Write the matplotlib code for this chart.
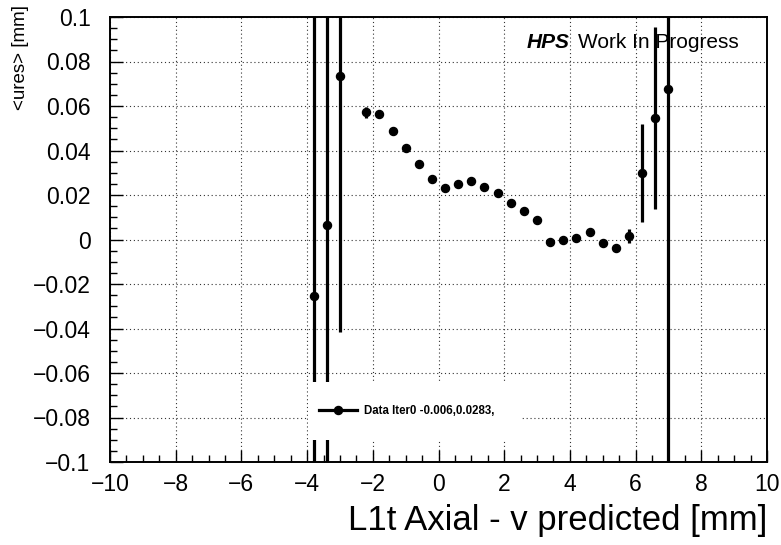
import matplotlib
matplotlib.use("Agg")
import matplotlib.pyplot as plt
from matplotlib.ticker import MultipleLocator, FuncFormatter
from matplotlib.patches import Rectangle
from matplotlib.lines import Line2D

plt.rcParams['font.family'] = ['Liberation Sans', 'DejaVu Sans']

# Mean residual per predicted-v bin
v_pred = [-3.8, -3.4, -3.0, -2.2, -1.8, -1.4, -1.0, -0.6, -0.2, 0.2, 0.6, 1.0,
          1.4, 1.8, 2.2, 2.6, 3.0, 3.4, 3.8, 4.2, 4.6, 5.0, 5.4, 5.8, 6.2, 6.6, 7.0]
ures_mean = [-0.0255, 0.0065, 0.0733, 0.0572, 0.0562, 0.0487, 0.0410, 0.0340,
             0.0274, 0.0232, 0.0250, 0.0263, 0.0235, 0.0208, 0.0166, 0.0130,
             0.0088, -0.0010, -0.0004, 0.0007, 0.0035, -0.0017, -0.0036,
             0.0015, 0.0300, 0.0547, 0.0675]
ures_err = [0.20, 0.20, 0.115, 0.0025, 0.0012, 0.0012, 0.0012, 0.0012, 0.0012,
            0.0012, 0.0012, 0.0012, 0.0012, 0.0012, 0.0012, 0.0012, 0.0012,
            0.0012, 0.0012, 0.0012, 0.0012, 0.0012, 0.0012, 0.003, 0.022,
            0.041, 0.30]

legend_label = "Data Iter0 -0.006,0.0283,"

fig = plt.figure(figsize=(7.81, 5.45), dpi=100)
ax = fig.add_axes([110 / 781, 83 / 545, 657 / 781, 445 / 545])

ax.errorbar(v_pred, ures_mean, yerr=ures_err, fmt='o', color='black',
            ms=5.8, elinewidth=2.3, capsize=0, zorder=3)

ax.set_xlim(-10, 10)
ax.set_ylim(-0.1, 0.1)

ax.xaxis.set_major_locator(MultipleLocator(2))
ax.xaxis.set_minor_locator(MultipleLocator(0.5))
ax.yaxis.set_major_locator(MultipleLocator(0.02))
ax.yaxis.set_minor_locator(MultipleLocator(0.005))


def yfmt(v, pos):
    if abs(v) < 1e-9:
        return "0"
    s = f"{v:.2f}".rstrip('0')
    return s.replace('-', '\u2212')


ax.yaxis.set_major_formatter(FuncFormatter(yfmt))
ax.xaxis.set_major_formatter(FuncFormatter(lambda v, p: f"{v:.0f}".replace('-', '\u2212')))

ax.tick_params(which='both', direction='in', top=False, right=False,
               labelsize=16.5, width=1.0)
ax.tick_params(axis='x', which='major', length=9, pad=8)
ax.tick_params(axis='y', which='major', length=9, pad=14)
ax.tick_params(which='minor', length=5)

for sp in ax.spines.values():
    sp.set_linewidth(1.4)

ax.grid(True, which='major', linestyle=(0, (1, 2.5)), linewidth=0.8,
        color='#333333', zorder=0)
ax.set_axisbelow(True)

# White legend panel
ax.add_patch(Rectangle((0.302, 0.049), 0.322, 0.131, transform=ax.transAxes,
                       facecolor='white', edgecolor='none', zorder=4))
handle = Line2D([], [], color='black', marker='o', ms=5.8, lw=2.3)
leg = ax.legend([handle], [legend_label], loc='center left',
                bbox_to_anchor=(0.307, 0.049, 0.322, 0.131),
                frameon=False, handlelength=3.3, handletextpad=0.6,
                prop={'size': 8.3, 'weight': 'bold'}, borderaxespad=0,
                borderpad=0.6)
leg.set_zorder(5)

# Experiment tag
ax.text(527 / 781, 497 / 545, "HPS", transform=fig.transFigure,
        fontsize=15, fontweight='bold', fontstyle='italic', va='baseline',
        ha='left')
ax.text(578 / 781, 497 / 545, "Work In Progress", transform=fig.transFigure,
        fontsize=15, va='baseline', ha='left')

fig.text(767 / 781, 15 / 545, "L1t Axial - v predicted [mm]", fontsize=25,
         ha='right', va='baseline')
fig.text(21 / 781, 540 / 545, "<ures> [mm]", fontsize=13.5, rotation=90,
         ha='center', va='top')

fig.savefig("out.png", dpi=100)
